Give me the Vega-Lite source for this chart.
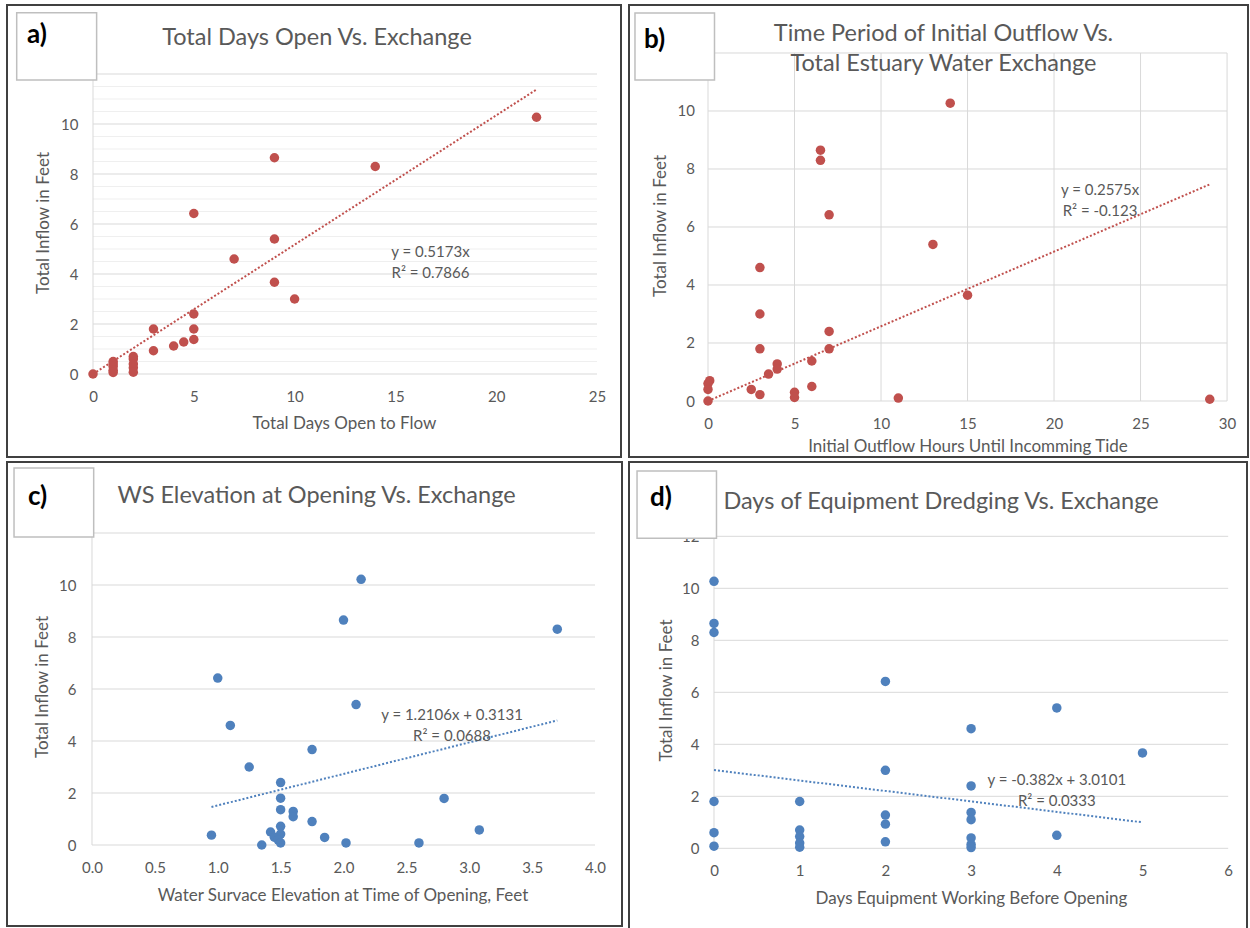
{
  "$schema": "https://vega.github.io/schema/vega-lite/v6.json",
  "padding": {"left": 6, "top": 4, "right": 0, "bottom": 0},
  "background": "#ffffff",
  "config": {
    "font": "Lato",
    "view": {"stroke": "#404040", "strokeWidth": 2},
    "axis": {"domain": false, "ticks": false, "tickSize": 0, "grid": false, "labelFont": "Lato", "titleFont": "Lato", "labelFontSize": 15, "titleFontSize": 17, "titleFontWeight": "normal", "labelColor": "#595959", "titleColor": "#595959", "labelFlush": false},
    "title": {"font": "Lato", "fontSize": 23.5, "fontWeight": "normal", "color": "#595959", "anchor": "middle"},
    "text": {"font": "Lato"}
  },
  "datasets": {
    "pointsA": [
      {"days": 0, "inflow": 0}, {"days": 1, "inflow": 0.5}, {"days": 1, "inflow": 0.4}, {"days": 1, "inflow": 0.3}, {"days": 1, "inflow": 0.15}, {"days": 1, "inflow": 0.06},
      {"days": 2, "inflow": 0.7}, {"days": 2, "inflow": 0.6}, {"days": 2, "inflow": 0.4}, {"days": 2, "inflow": 0.25}, {"days": 2, "inflow": 0.07},
      {"days": 3, "inflow": 1.8}, {"days": 3, "inflow": 0.93}, {"days": 4, "inflow": 1.12}, {"days": 4.5, "inflow": 1.28},
      {"days": 5, "inflow": 1.38}, {"days": 5, "inflow": 1.8}, {"days": 5, "inflow": 2.4}, {"days": 5, "inflow": 6.42},
      {"days": 7, "inflow": 4.6}, {"days": 9, "inflow": 8.65}, {"days": 9, "inflow": 5.4}, {"days": 9, "inflow": 3.67},
      {"days": 10, "inflow": 3.0}, {"days": 14, "inflow": 8.3}, {"days": 22, "inflow": 10.27}
    ],
    "pointsB": [
      {"hours": 14, "inflow": 10.27}, {"hours": 6.5, "inflow": 8.65}, {"hours": 6.5, "inflow": 8.3}, {"hours": 7, "inflow": 6.42},
      {"hours": 13, "inflow": 5.4}, {"hours": 3, "inflow": 4.6}, {"hours": 15, "inflow": 3.65}, {"hours": 3, "inflow": 3.0},
      {"hours": 7, "inflow": 2.4}, {"hours": 3, "inflow": 1.8}, {"hours": 7, "inflow": 1.8}, {"hours": 6, "inflow": 1.38},
      {"hours": 4, "inflow": 1.28}, {"hours": 4, "inflow": 1.1}, {"hours": 3.5, "inflow": 0.93}, {"hours": 0.1, "inflow": 0.7},
      {"hours": 0, "inflow": 0.6}, {"hours": 0, "inflow": 0.4}, {"hours": 2.5, "inflow": 0.4}, {"hours": 3, "inflow": 0.22},
      {"hours": 6, "inflow": 0.5}, {"hours": 5, "inflow": 0.3}, {"hours": 5, "inflow": 0.12}, {"hours": 11, "inflow": 0.1},
      {"hours": 29, "inflow": 0.06}, {"hours": 0, "inflow": 0}
    ],
    "pointsC": [
      {"elev": 2.14, "inflow": 10.22}, {"elev": 2.0, "inflow": 8.65}, {"elev": 3.7, "inflow": 8.3}, {"elev": 1.0, "inflow": 6.42},
      {"elev": 2.1, "inflow": 5.4}, {"elev": 1.1, "inflow": 4.6}, {"elev": 1.75, "inflow": 3.67}, {"elev": 1.25, "inflow": 3.0},
      {"elev": 1.5, "inflow": 2.4}, {"elev": 1.5, "inflow": 1.8}, {"elev": 1.5, "inflow": 1.36}, {"elev": 1.6, "inflow": 1.29},
      {"elev": 1.6, "inflow": 1.09}, {"elev": 1.75, "inflow": 0.9}, {"elev": 1.5, "inflow": 0.72}, {"elev": 1.42, "inflow": 0.5},
      {"elev": 1.5, "inflow": 0.42}, {"elev": 1.45, "inflow": 0.3}, {"elev": 1.48, "inflow": 0.2}, {"elev": 1.5, "inflow": 0.08},
      {"elev": 1.35, "inflow": 0.0}, {"elev": 0.95, "inflow": 0.38}, {"elev": 1.85, "inflow": 0.29}, {"elev": 2.02, "inflow": 0.08},
      {"elev": 2.6, "inflow": 0.08}, {"elev": 2.8, "inflow": 1.79}, {"elev": 3.08, "inflow": 0.58}
    ],
    "pointsD": [
      {"days": 0, "inflow": 10.27}, {"days": 0, "inflow": 8.65}, {"days": 0, "inflow": 8.3}, {"days": 0, "inflow": 1.8}, {"days": 0, "inflow": 0.6}, {"days": 0, "inflow": 0.08},
      {"days": 1, "inflow": 1.8}, {"days": 1, "inflow": 0.7}, {"days": 1, "inflow": 0.45}, {"days": 1, "inflow": 0.2}, {"days": 1, "inflow": 0.04},
      {"days": 2, "inflow": 6.42}, {"days": 2, "inflow": 3.0}, {"days": 2, "inflow": 1.28}, {"days": 2, "inflow": 0.93}, {"days": 2, "inflow": 0.25},
      {"days": 3, "inflow": 4.6}, {"days": 3, "inflow": 2.4}, {"days": 3, "inflow": 1.38}, {"days": 3, "inflow": 1.1}, {"days": 3, "inflow": 0.4}, {"days": 3, "inflow": 0.15}, {"days": 3, "inflow": 0.03},
      {"days": 4, "inflow": 5.4}, {"days": 4, "inflow": 0.5}, {"days": 5, "inflow": 3.67}
    ],
    "trendA": [{"x": 0, "y": 0}, {"x": 22, "y": 11.38}],
    "trendB": [{"x": 0, "y": 0}, {"x": 29, "y": 7.47}],
    "trendC": [{"x": 0.95, "y": 1.463}, {"x": 3.7, "y": 4.792}],
    "trendD": [{"x": 0, "y": 3.0101}, {"x": 5, "y": 1.0001}],
    "hgrid": [{"g": 0}, {"g": 2}, {"g": 4}, {"g": 6}, {"g": 8}, {"g": 10}, {"g": 12}],
    "minorA": [{"g": 0.5}, {"g": 1}, {"g": 1.5}, {"g": 2.5}, {"g": 3}, {"g": 3.5}, {"g": 4.5}, {"g": 5}, {"g": 5.5}, {"g": 6.5}, {"g": 7}, {"g": 7.5}, {"g": 8.5}, {"g": 9}, {"g": 9.5}, {"g": 10.5}, {"g": 11}, {"g": 11.5}],
    "vgridB": [{"v": 0}, {"v": 5}, {"v": 10}, {"v": 15}, {"v": 20}, {"v": 25}, {"v": 30}],
    "axis0": [{"v": 0}]
  },
  "columns": 2,
  "spacing": {"row": 5, "column": 7},
  "bounds": "flush",
  "concat": [
    {
      "width": 614,
      "height": 452,
      "title": {"text": "Total Days Open Vs. Exchange", "offset": -56.5, "baseline": "middle", "dx": 3},
      "layer": [
        {"data": {"name": "minorA"}, "mark": {"type": "rule", "color": "#efefef", "strokeWidth": 1},
         "encoding": {"y": {"field": "g", "type": "quantitative", "scale": {"domain": [-3.32, 14.76], "nice": false, "zero": false}},
                      "x": {"datum": 0, "type": "quantitative", "scale": {"domain": [-4.266, 26.19], "nice": false, "zero": false}},
                      "x2": {"datum": 25}}},
        {"data": {"name": "hgrid"}, "mark": {"type": "rule", "color": "#d9d9d9", "strokeWidth": 1},
         "encoding": {"y": {"field": "g", "type": "quantitative", "scale": {"domain": [-3.32, 14.76], "nice": false, "zero": false}},
                      "x": {"datum": 0, "type": "quantitative", "scale": {"domain": [-4.266, 26.19], "nice": false, "zero": false}},
                      "x2": {"datum": 25}}},
        {"data": {"name": "axis0"}, "mark": {"type": "rule", "color": "#d9d9d9", "strokeWidth": 1},
         "encoding": {"x": {"field": "v", "type": "quantitative", "scale": {"domain": [-4.266, 26.19], "nice": false, "zero": false}},
                      "y": {"datum": 0, "type": "quantitative", "scale": {"domain": [-3.32, 14.76], "nice": false, "zero": false}},
                      "y2": {"datum": 12}}},
        {"data": {"values": [{"label": "a)"}]}, "mark": {"type": "rect", "fill": "#ffffff", "stroke": "#bfbfbf", "strokeWidth": 1.5},
         "encoding": {"x": {"datum": -3.785, "type": "quantitative", "scale": {"domain": [-4.266, 26.19], "nice": false, "zero": false}},
                      "x2": {"datum": 0.18},
                      "y": {"datum": 14.45, "type": "quantitative", "scale": {"domain": [-3.32, 14.76], "nice": false, "zero": false}},
                      "y2": {"datum": 11.76}}},
        {"data": {"values": [{"label": "a)"}]}, "mark": {"type": "text", "align": "left", "baseline": "middle", "fontSize": 26, "fontWeight": "bold", "color": "#000000"},
         "encoding": {"text": {"field": "label"},
                      "x": {"datum": -3.27, "type": "quantitative", "scale": {"domain": [-4.266, 26.19], "nice": false, "zero": false}},
                      "y": {"datum": 13.56, "type": "quantitative", "scale": {"domain": [-3.32, 14.76], "nice": false, "zero": false}}}},
        {"data": {"name": "trendA"}, "mark": {"type": "line", "color": "#c0504d", "strokeWidth": 2, "strokeDash": [2, 2]},
         "encoding": {"x": {"field": "x", "type": "quantitative", "scale": {"domain": [-4.266, 26.19], "nice": false, "zero": false}},
                      "y": {"field": "y", "type": "quantitative", "scale": {"domain": [-3.32, 14.76], "nice": false, "zero": false}}}},
        {"data": {"name": "pointsA"}, "mark": {"type": "circle", "size": 90, "opacity": 1, "color": "#c0504d"},
         "encoding": {"x": {"field": "days", "type": "quantitative", "scale": {"domain": [-4.266, 26.19], "nice": false, "zero": false},
                            "axis": {"orient": "bottom", "offset": -83, "values": [0, 5, 10, 15, 20, 25], "format": "d", "labelPadding": 15, "title": "Total Days Open to Flow", "titleX": 337, "titleY": 49, "titleBaseline": "middle", "titleAlign": "center"}},
                      "y": {"field": "inflow", "type": "quantitative", "scale": {"domain": [-3.32, 14.76], "nice": false, "zero": false},
                            "axis": {"orient": "left", "offset": -86, "values": [0, 2, 4, 6, 8, 10, 12], "format": "d", "labelPadding": 15, "title": "Total Inflow in Feet", "titleX": -49.5, "titleY": 217.5, "titleBaseline": "middle", "titleAlign": "center", "titleAngle": -90}}}},
        {"data": {"values": [{"fit": "a"}]}, "mark": {"type": "text", "align": "center", "baseline": "middle", "fontSize": 15, "lineHeight": 21, "color": "#595959"},
         "encoding": {"text": {"value": ["y = 0.5173x", "R² = 0.7866"]},
                      "x": {"datum": 16.74, "type": "quantitative", "scale": {"domain": [-4.266, 26.19], "nice": false, "zero": false}},
                      "y": {"datum": 4.885, "type": "quantitative", "scale": {"domain": [-3.32, 14.76], "nice": false, "zero": false}}}}
      ]
    },
    {
      "width": 619,
      "height": 452,
      "title": {"text": ["Time Period of Initial Outflow Vs.", "Total Estuary Water Exchange"], "offset": -82.5, "baseline": "middle", "lineHeight": 30, "dx": 5},
      "layer": [
        {"data": {"name": "hgrid"}, "mark": {"type": "rule", "color": "#d9d9d9", "strokeWidth": 1},
         "encoding": {"y": {"field": "g", "type": "quantitative", "scale": {"domain": [-1.931, 13.655], "nice": false, "zero": false}},
                      "x": {"datum": 0, "type": "quantitative", "scale": {"domain": [-4.566, 31.21], "nice": false, "zero": false}},
                      "x2": {"datum": 30}}},
        {"data": {"name": "vgridB"}, "mark": {"type": "rule", "color": "#d9d9d9", "strokeWidth": 1},
         "encoding": {"x": {"field": "v", "type": "quantitative", "scale": {"domain": [-4.566, 31.21], "nice": false, "zero": false}},
                      "y": {"datum": 0, "type": "quantitative", "scale": {"domain": [-1.931, 13.655], "nice": false, "zero": false}},
                      "y2": {"datum": 12}}},
        {"data": {"values": [{"label": "b)"}]}, "mark": {"type": "rect", "fill": "#ffffff", "stroke": "#bfbfbf", "strokeWidth": 1.5},
         "encoding": {"x": {"datum": -4.22, "type": "quantitative", "scale": {"domain": [-4.566, 31.21], "nice": false, "zero": false}},
                      "x2": {"datum": 0.376},
                      "y": {"datum": 13.38, "type": "quantitative", "scale": {"domain": [-1.931, 13.655], "nice": false, "zero": false}},
                      "y2": {"datum": 11.07}}},
        {"data": {"values": [{"label": "b)"}]}, "mark": {"type": "text", "align": "left", "baseline": "middle", "fontSize": 26, "fontWeight": "bold", "color": "#000000"},
         "encoding": {"text": {"field": "label"},
                      "x": {"datum": -3.7, "type": "quantitative", "scale": {"domain": [-4.566, 31.21], "nice": false, "zero": false}},
                      "y": {"datum": 12.45, "type": "quantitative", "scale": {"domain": [-1.931, 13.655], "nice": false, "zero": false}}}},
        {"data": {"name": "trendB"}, "mark": {"type": "line", "color": "#c0504d", "strokeWidth": 2, "strokeDash": [2, 2]},
         "encoding": {"x": {"field": "x", "type": "quantitative", "scale": {"domain": [-4.566, 31.21], "nice": false, "zero": false}},
                      "y": {"field": "y", "type": "quantitative", "scale": {"domain": [-1.931, 13.655], "nice": false, "zero": false}}}},
        {"data": {"name": "pointsB"}, "mark": {"type": "circle", "size": 90, "opacity": 1, "color": "#c0504d"},
         "encoding": {"x": {"field": "hours", "type": "quantitative", "scale": {"domain": [-4.566, 31.21], "nice": false, "zero": false},
                            "axis": {"orient": "bottom", "offset": -56, "values": [0, 5, 10, 15, 20, 25, 30], "format": "d", "labelPadding": 15, "title": "Initial Outflow Hours Until Incomming Tide", "titleX": 338.5, "titleY": 45.7, "titleBaseline": "middle", "titleAlign": "center"}},
                      "y": {"field": "inflow", "type": "quantitative", "scale": {"domain": [-1.931, 13.655], "nice": false, "zero": false},
                            "axis": {"orient": "left", "offset": -79, "values": [0, 2, 4, 6, 8, 10, 12], "format": "d", "labelPadding": 13.5, "title": "Total Inflow in Feet", "titleX": -48, "titleY": 220.5, "titleBaseline": "middle", "titleAlign": "center", "titleAngle": -90}}}},
        {"data": {"values": [{"fit": "b"}]}, "mark": {"type": "text", "align": "center", "baseline": "middle", "fontSize": 15, "lineHeight": 21, "color": "#595959"},
         "encoding": {"text": {"value": ["y = 0.2575x", "R² = -0.123"]},
                      "x": {"datum": 22.66, "type": "quantitative", "scale": {"domain": [-4.566, 31.21], "nice": false, "zero": false}},
                      "y": {"datum": 7.275, "type": "quantitative", "scale": {"domain": [-1.931, 13.655], "nice": false, "zero": false}}}}
      ]
    },
    {
      "width": 615,
      "height": 464,
      "title": {"text": "WS Elevation at Opening Vs. Exchange", "offset": -57.5, "baseline": "middle", "dx": 2},
      "layer": [
        {"data": {"name": "hgrid"}, "mark": {"type": "rule", "color": "#d9d9d9", "strokeWidth": 1},
         "encoding": {"y": {"field": "g", "type": "quantitative", "scale": {"domain": [-3.115, 14.731], "nice": false, "zero": false}},
                      "x": {"datum": 0, "type": "quantitative", "scale": {"domain": [-0.6759, 4.2147], "nice": false, "zero": false}},
                      "x2": {"datum": 4}}},
        {"data": {"name": "axis0"}, "mark": {"type": "rule", "color": "#d9d9d9", "strokeWidth": 1},
         "encoding": {"x": {"field": "v", "type": "quantitative", "scale": {"domain": [-0.6759, 4.2147], "nice": false, "zero": false}},
                      "y": {"datum": 0, "type": "quantitative", "scale": {"domain": [-3.115, 14.731], "nice": false, "zero": false}},
                      "y2": {"datum": 12}}},
        {"data": {"values": [{"label": "c)"}]}, "mark": {"type": "rect", "fill": "#ffffff", "stroke": "#bfbfbf", "strokeWidth": 1.5},
         "encoding": {"x": {"datum": -0.62, "type": "quantitative", "scale": {"domain": [-0.6759, 4.2147], "nice": false, "zero": false}},
                      "x2": {"datum": 0.0135},
                      "y": {"datum": 14.5, "type": "quantitative", "scale": {"domain": [-3.115, 14.731], "nice": false, "zero": false}},
                      "y2": {"datum": 11.85}}},
        {"data": {"values": [{"label": "c)"}]}, "mark": {"type": "text", "align": "left", "baseline": "middle", "fontSize": 26, "fontWeight": "bold", "color": "#000000"},
         "encoding": {"text": {"field": "label"},
                      "x": {"datum": -0.509, "type": "quantitative", "scale": {"domain": [-0.6759, 4.2147], "nice": false, "zero": false}},
                      "y": {"datum": 13.38, "type": "quantitative", "scale": {"domain": [-3.115, 14.731], "nice": false, "zero": false}}}},
        {"data": {"name": "trendC"}, "mark": {"type": "line", "color": "#4f81bd", "strokeWidth": 2, "strokeDash": [2, 2]},
         "encoding": {"x": {"field": "x", "type": "quantitative", "scale": {"domain": [-0.6759, 4.2147], "nice": false, "zero": false}},
                      "y": {"field": "y", "type": "quantitative", "scale": {"domain": [-3.115, 14.731], "nice": false, "zero": false}}}},
        {"data": {"name": "pointsC"}, "mark": {"type": "circle", "size": 90, "opacity": 1, "color": "#4f81bd"},
         "encoding": {"x": {"field": "elev", "type": "quantitative", "scale": {"domain": [-0.6759, 4.2147], "nice": false, "zero": false},
                            "axis": {"orient": "bottom", "offset": -81, "values": [0, 0.5, 1, 1.5, 2, 2.5, 3, 3.5, 4], "format": ".1f", "labelPadding": 15, "title": "Water Survace Elevation at Time of Opening, Feet", "titleX": 335.5, "titleY": 50, "titleBaseline": "middle", "titleAlign": "center"}},
                      "y": {"field": "inflow", "type": "quantitative", "scale": {"domain": [-3.115, 14.731], "nice": false, "zero": false},
                            "axis": {"orient": "left", "offset": -85, "values": [0, 2, 4, 6, 8, 10], "format": "d", "labelPadding": 16, "title": "Total Inflow in Feet", "titleX": -49.3, "titleY": 224.5, "titleBaseline": "middle", "titleAlign": "center", "titleAngle": -90}}}},
        {"data": {"values": [{"fit": "c"}]}, "mark": {"type": "text", "align": "center", "baseline": "middle", "fontSize": 15, "lineHeight": 21, "color": "#595959"},
         "encoding": {"text": {"value": ["y = 1.2106x + 0.3131", "R² = 0.0688"]},
                      "x": {"datum": 2.863, "type": "quantitative", "scale": {"domain": [-0.6759, 4.2147], "nice": false, "zero": false}},
                      "y": {"datum": 5.0, "type": "quantitative", "scale": {"domain": [-3.115, 14.731], "nice": false, "zero": false}}}}
      ]
    },
    {
      "width": 618,
      "height": 468,
      "title": {"text": "Days of Equipment Dredging Vs. Exchange", "offset": -63.5, "baseline": "middle", "dx": 3},
      "layer": [
        {"data": {"name": "hgrid"}, "mark": {"type": "rule", "color": "#d9d9d9", "strokeWidth": 1},
         "encoding": {"y": {"field": "g", "type": "quantitative", "scale": {"domain": [-3.142, 14.858], "nice": false, "zero": false}},
                      "x": {"datum": 0, "type": "quantitative", "scale": {"domain": [-0.9918, 6.2194], "nice": false, "zero": false}},
                      "x2": {"datum": 6}}},
        {"data": {"name": "axis0"}, "mark": {"type": "rule", "color": "#d9d9d9", "strokeWidth": 1},
         "encoding": {"x": {"field": "v", "type": "quantitative", "scale": {"domain": [-0.9918, 6.2194], "nice": false, "zero": false}},
                      "y": {"datum": 0, "type": "quantitative", "scale": {"domain": [-3.142, 14.858], "nice": false, "zero": false}},
                      "y2": {"datum": 12}}},
        {"data": {"values": [{"label": "d)"}]}, "mark": {"type": "rect", "fill": "#ffffff", "stroke": "#bfbfbf", "strokeWidth": 1.5},
         "encoding": {"x": {"datum": -0.898, "type": "quantitative", "scale": {"domain": [-0.9918, 6.2194], "nice": false, "zero": false}},
                      "x2": {"datum": 0.029},
                      "y": {"datum": 14.51, "type": "quantitative", "scale": {"domain": [-3.142, 14.858], "nice": false, "zero": false}},
                      "y2": {"datum": 11.93}}},
        {"data": {"values": [{"label": "d)"}]}, "mark": {"type": "text", "align": "left", "baseline": "middle", "fontSize": 26, "fontWeight": "bold", "color": "#000000"},
         "encoding": {"text": {"field": "label"},
                      "x": {"datum": -0.747, "type": "quantitative", "scale": {"domain": [-0.9918, 6.2194], "nice": false, "zero": false}},
                      "y": {"datum": 13.47, "type": "quantitative", "scale": {"domain": [-3.142, 14.858], "nice": false, "zero": false}}}},
        {"data": {"name": "trendD"}, "mark": {"type": "line", "color": "#4f81bd", "strokeWidth": 2, "strokeDash": [2, 2]},
         "encoding": {"x": {"field": "x", "type": "quantitative", "scale": {"domain": [-0.9918, 6.2194], "nice": false, "zero": false}},
                      "y": {"field": "y", "type": "quantitative", "scale": {"domain": [-3.142, 14.858], "nice": false, "zero": false}}}},
        {"data": {"name": "pointsD"}, "mark": {"type": "circle", "size": 90, "opacity": 1, "color": "#4f81bd"},
         "encoding": {"x": {"field": "days", "type": "quantitative", "scale": {"domain": [-0.9918, 6.2194], "nice": false, "zero": false},
                            "axis": {"orient": "bottom", "offset": -81.7, "values": [0, 1, 2, 3, 4, 5, 6], "format": "d", "labelPadding": 15, "title": "Days Equipment Working Before Opening", "titleX": 342, "titleY": 49.7, "titleBaseline": "middle", "titleAlign": "center"}},
                      "y": {"field": "inflow", "type": "quantitative", "scale": {"domain": [-3.142, 14.858], "nice": false, "zero": false},
                            "axis": {"orient": "left", "offset": -85, "values": [0, 2, 4, 6, 8, 10, 12], "format": "d", "labelPadding": 15, "title": "Total Inflow in Feet", "titleX": -48, "titleY": 228, "titleBaseline": "middle", "titleAlign": "center", "titleAngle": -90}}}},
        {"data": {"values": [{"fit": "d"}]}, "mark": {"type": "text", "align": "center", "baseline": "middle", "fontSize": 15, "lineHeight": 21, "color": "#595959"},
         "encoding": {"text": {"value": ["y = -0.382x + 3.0101", "R² = 0.0333"]},
                      "x": {"datum": 4.0, "type": "quantitative", "scale": {"domain": [-0.9918, 6.2194], "nice": false, "zero": false}},
                      "y": {"datum": 2.625, "type": "quantitative", "scale": {"domain": [-3.142, 14.858], "nice": false, "zero": false}}}}
      ]
    }
  ]
}
